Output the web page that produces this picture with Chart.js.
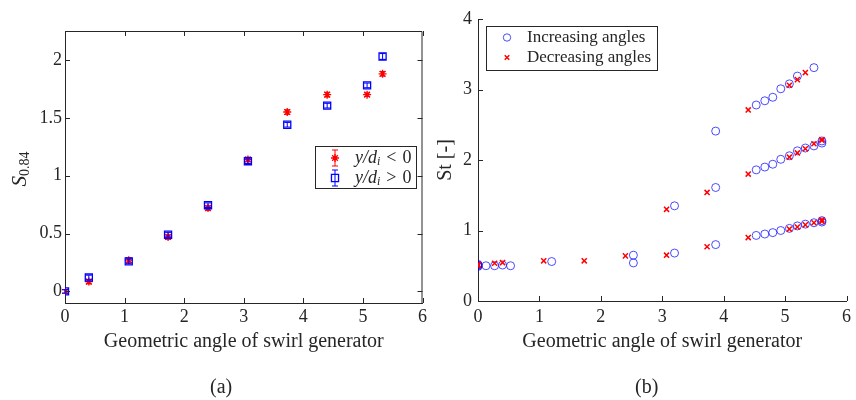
<!DOCTYPE html>
<html>
<head>
<meta charset="utf-8">
<script src="https://cdn.jsdelivr.net/npm/chart.js@4.4.1/dist/chart.umd.min.js"></script>
<style>
  body { margin: 0; background: #fff; width: 856px; height: 400px; position: relative; overflow: hidden; }
  canvas { position: absolute; top: 0; }
  #cA { left: 0; }
  #cB { left: 430px; }
  .tag { position: absolute; top: 375px; font: 20px 'Liberation Serif', serif; line-height: 22px; color: #262626; }
</style>
</head>
<body>
<canvas id="cA" width="430" height="400"></canvas>
<canvas id="cB" width="426" height="400"></canvas>
<div class="tag" style="left:210px">(a)</div>
<div class="tag" style="left:635px">(b)</div>
<script>
// ---- panel (a): swirl number S_0.84 ----
const angleA = [0, 0.4, 1.07, 1.73, 2.4, 3.07, 3.73, 4.4, 5.07, 5.33];
const swirlNeg = [0, 0.085, 0.27, 0.47, 0.72, 1.14, 1.55, 1.70, 1.70, 1.88];
const swirlNegErr = [0.015, 0.02, 0.02, 0.02, 0.02, 0.02, 0.02, 0.02, 0.015, 0.02];
const swirlPos = [0, 0.12, 0.26, 0.49, 0.745, 1.125, 1.44, 1.605, 1.78, 2.03];
const swirlPosErr = [0.015, 0.02, 0.02, 0.02, 0.02, 0.02, 0.02, 0.02, 0.02, 0.025];

// ---- panel (b): Strouhal number ----
const incAngle = [0, 0, 0, 0, 0.13, 0.27, 0.4, 0.53, 1.2, 2.53, 2.53, 3.2, 3.2, 3.87, 3.87, 3.87,
  4.53, 4.53, 4.53, 4.67, 4.67, 4.67, 4.8, 4.8, 4.8, 4.93, 4.93, 4.93, 5.07, 5.07, 5.07,
  5.2, 5.2, 5.2, 5.33, 5.33, 5.47, 5.47, 5.47, 5.6, 5.6, 5.6, 5.6];
const incSt = [0.49, 0.50, 0.51, 0.52, 0.50, 0.50, 0.51, 0.50, 0.56, 0.65, 0.54, 0.68, 1.35, 0.80, 1.61, 2.41,
  0.93, 1.86, 2.78, 0.95, 1.90, 2.84, 0.97, 1.94, 2.89, 1.00, 2.01, 3.01, 1.03, 2.06, 3.08,
  1.065, 2.13, 3.19, 1.09, 2.17, 1.11, 2.20, 3.31, 1.12, 1.14, 2.24, 2.27];
const decAngle = [0, 0, 0, 0.27, 0.4, 1.07, 1.73, 2.4, 3.07, 3.07, 3.73, 3.73, 4.4, 4.4, 4.4,
  5.07, 5.07, 5.07, 5.2, 5.2, 5.2, 5.33, 5.33, 5.33, 5.47, 5.47, 5.6, 5.6, 5.6, 5.6];
const decSt = [0.50, 0.51, 0.52, 0.535, 0.545, 0.57, 0.57, 0.64, 0.65, 1.30, 0.77, 1.54, 0.90, 1.80, 2.71,
  1.02, 2.04, 3.06, 1.05, 2.10, 3.14, 1.08, 2.16, 3.24, 1.11, 2.23, 1.13, 1.15, 2.28, 2.29];

// ---- axes ----
const xTicks = [0, 1, 2, 3, 4, 5, 6];
const yTicksA = [0, 0.5, 1, 1.5, 2];
const yTicksB = [0, 1, 2, 3, 4];

const serif = "'Liberation Serif', 'Times New Roman', serif";
const ink = '#262626';
Chart.defaults.font.family = serif;
Chart.defaults.color = ink;

const pts = (xs, ys) => xs.map((x, i) => ({ x: x, y: ys[i] }));
const fixTicks = vals => s => { s.ticks = vals.map(v => ({ value: v })); };

// inward tick marks, and the top/right frame when box is on
const frame = {
  id: 'frame',
  afterDatasetsDraw(chart, args, opts) {
    const { ctx, chartArea: a, scales: { x, y } } = chart;
    ctx.save();
    ctx.strokeStyle = ink;
    ctx.lineWidth = 1;
    ctx.beginPath();
    x.ticks.forEach(t => {
      const px = Math.round(x.getPixelForValue(t.value)) + 0.5;
      ctx.moveTo(px, a.bottom); ctx.lineTo(px, a.bottom - 5);
      if (opts.box) { ctx.moveTo(px, a.top); ctx.lineTo(px, a.top + 5); }
    });
    y.ticks.forEach(t => {
      const py = Math.round(y.getPixelForValue(t.value)) + 0.5;
      ctx.moveTo(a.left, py); ctx.lineTo(a.left + 5, py);
      if (opts.box) { ctx.moveTo(a.right, py); ctx.lineTo(a.right - 5, py); }
    });
    if (opts.box) {
      ctx.moveTo(a.left, a.top + 0.5);
      ctx.lineTo(a.right - 0.5, a.top + 0.5);
      ctx.lineTo(a.right - 0.5, a.bottom);
    }
    ctx.stroke();
    ctx.restore();
  }
};

function errBar(ctx, px, top, bot) {
  ctx.moveTo(px, top); ctx.lineTo(px, bot);
  ctx.moveTo(px - 3, top); ctx.lineTo(px + 3, top);
  ctx.moveTo(px - 3, bot); ctx.lineTo(px + 3, bot);
}

const errorBars = {
  id: 'errorBars',
  afterDatasetDraw(chart, args) {
    const ds = chart.data.datasets[args.index];
    if (!ds.err) return;
    const { ctx, scales: { x, y } } = chart;
    ctx.save();
    ctx.strokeStyle = ds.borderColor;
    ctx.lineWidth = 1;
    ctx.beginPath();
    ds.data.forEach((p, i) => {
      errBar(ctx, x.getPixelForValue(p.x), y.getPixelForValue(p.y + ds.err[i]), y.getPixelForValue(p.y - ds.err[i]));
    });
    ctx.stroke();
    ctx.restore();
  }
};

const boxLegend = {
  id: 'boxLegend',
  afterDraw(chart, args, o) {
    const ctx = chart.ctx;
    ctx.save();
    ctx.fillStyle = '#fff';
    ctx.fillRect(o.x, o.y, o.w, o.h);
    ctx.strokeStyle = ink;
    ctx.lineWidth = 1;
    ctx.strokeRect(o.x + 0.5, o.y + 0.5, o.w, o.h);
    o.labels.forEach((parts, k) => {
      const ds = chart.data.datasets[k];
      const cy = o.y + o.rowY[k];
      const mx = o.x + o.markX;
      ctx.strokeStyle = ds.borderColor;
      ctx.fillStyle = 'rgba(0,0,0,0)';
      ctx.lineWidth = ds.borderWidth;
      if (ds.err) {
        ctx.save();
        ctx.lineWidth = 1;
        ctx.beginPath();
        errBar(ctx, mx, cy - 8, cy + 8);
        ctx.stroke();
        ctx.restore();
      }
      Chart.helpers.drawPoint(ctx, { pointStyle: ds.pointStyle, radius: o.markR[k], borderWidth: ds.borderWidth, rotation: 0 }, mx, cy);
      let tx = o.x + o.textX;
      ctx.fillStyle = ink;
      ctx.textAlign = 'left';
      ctx.textBaseline = 'middle';
      parts.forEach(p => {
        ctx.font = p.f;
        ctx.fillText(p.t, tx, cy + (p.dy || 0));
        tx += ctx.measureText(p.t).width;
      });
    });
    ctx.restore();
  }
};

// y label S_0.84 with subscript
const sLabel = {
  id: 'sLabel',
  afterDraw(chart) {
    const ctx = chart.ctx, a = chart.chartArea;
    ctx.save();
    ctx.translate(26, (a.top + a.bottom) / 2 + 2);
    ctx.rotate(-Math.PI / 2);
    ctx.fillStyle = ink;
    ctx.textBaseline = 'alphabetic';
    ctx.textAlign = 'left';
    ctx.font = 'italic 21px ' + serif;
    const w1 = ctx.measureText('S').width;
    ctx.font = '14px ' + serif;
    const w2 = ctx.measureText('0.84').width;
    const x0 = -(w1 + w2) / 2;
    ctx.font = 'italic 21px ' + serif;
    ctx.fillText('S', x0, 0);
    ctx.font = '14px ' + serif;
    ctx.fillText('0.84', x0 + w1, 3);
    ctx.restore();
  }
};

function axis(min, max, vals, extra) {
  return Object.assign({
    type: 'linear', min: min, max: max,
    afterBuildTicks: fixTicks(vals),
    grid: { display: true, drawOnChartArea: false, drawTicks: false },
    border: { display: true, color: ink, width: 1 },
    ticks: { font: { size: 18 }, color: ink, maxRotation: 0, callback: v => String(v) }
  }, extra);
}

const xTitle = (pad) => ({ display: true, text: 'Geometric angle of swirl generator', font: { size: 20 }, color: ink, padding: { top: 0, bottom: pad } });

new Chart(document.getElementById('cA'), {
  type: 'scatter',
  data: {
    datasets: [
      { label: 'y/d_i < 0', data: pts(angleA, swirlNeg), err: swirlNegErr, pointStyle: 'star', pointRadius: 4,
        borderColor: '#ff0000', backgroundColor: 'rgba(0,0,0,0)', borderWidth: 1.3, order: 2 },
      { label: 'y/d_i > 0', data: pts(angleA, swirlPos), err: swirlPosErr, pointStyle: 'rect', pointRadius: 5,
        borderColor: '#0000ff', backgroundColor: 'rgba(0,0,0,0)', borderWidth: 1.3, order: 1 }
    ]
  },
  options: {
    animation: false, responsive: false, devicePixelRatio: 1,
    layout: { padding: { top: 31, right: 3, left: 0, bottom: 0 } },
    scales: {
      x: axis(0, 6, xTicks, { afterFit: s => { s.height = 97; }, title: xTitle(46) }),
      y: axis(-0.1, 2.25, yTicksA, { afterFit: s => { s.width = 65; } })
    },
    plugins: {
      legend: { display: false },
      tooltip: { enabled: false },
      frame: { box: true },
      boxLegend: {
        x: 315, y: 146, w: 101, h: 42, markX: 20, textX: 40, rowY: [12, 32], markR: [4, 5],
        labels: [
          [{ t: 'y/d', f: 'italic 18px ' + serif }, { t: 'i', f: 'italic 12px ' + serif, dy: 4 }, { t: '\u2004<\u20040', f: '18px ' + serif }],
          [{ t: 'y/d', f: 'italic 18px ' + serif }, { t: 'i', f: 'italic 12px ' + serif, dy: 4 }, { t: '\u2004>\u20040', f: '18px ' + serif }]
        ]
      }
    }
  },
  plugins: [frame, errorBars, boxLegend, sLabel]
});

new Chart(document.getElementById('cB'), {
  type: 'scatter',
  data: {
    datasets: [
      { label: 'Increasing angles', data: pts(incAngle, incSt), pointStyle: 'circle', pointRadius: 4,
        borderColor: 'rgba(0,0,255,0.7)', backgroundColor: 'rgba(0,0,0,0)', borderWidth: 1, order: 2 },
      { label: 'Decreasing angles', data: pts(decAngle, decSt), pointStyle: 'crossRot', pointRadius: 3.6,
        borderColor: '#ff0000', backgroundColor: 'rgba(0,0,0,0)', borderWidth: 1.5, order: 1 }
    ]
  },
  options: {
    animation: false, responsive: false, devicePixelRatio: 1,
    layout: { padding: { top: 19, right: 3, left: 0, bottom: 0 } },
    scales: {
      x: axis(0, 6, xTicks, { afterFit: s => { s.height = 99; }, title: xTitle(46), ticks: { font: { size: 18 }, color: ink, maxRotation: 0, padding: 5, callback: v => String(v) } }),
      y: axis(0, 4, yTicksB, {
        afterFit: s => { s.width = 48; },
        ticks: { font: { size: 18 }, color: ink, padding: 6, callback: v => String(v) },
        title: { display: true, text: 'St [-]', font: { size: 20 }, color: ink, padding: { top: 4, bottom: 0 } }
      })
    },
    plugins: {
      legend: { display: false },
      tooltip: { enabled: false },
      frame: { box: false },
      boxLegend: {
        x: 56, y: 26, w: 171, h: 44, markX: 21, textX: 41, rowY: [11.5, 31.5], markR: [3.7, 3.2],
        labels: [
          [{ t: 'Increasing angles', f: '17px ' + serif }],
          [{ t: 'Decreasing angles', f: '17px ' + serif }]
        ]
      }
    }
  },
  plugins: [frame, boxLegend]
});
</script>
</body>
</html>
